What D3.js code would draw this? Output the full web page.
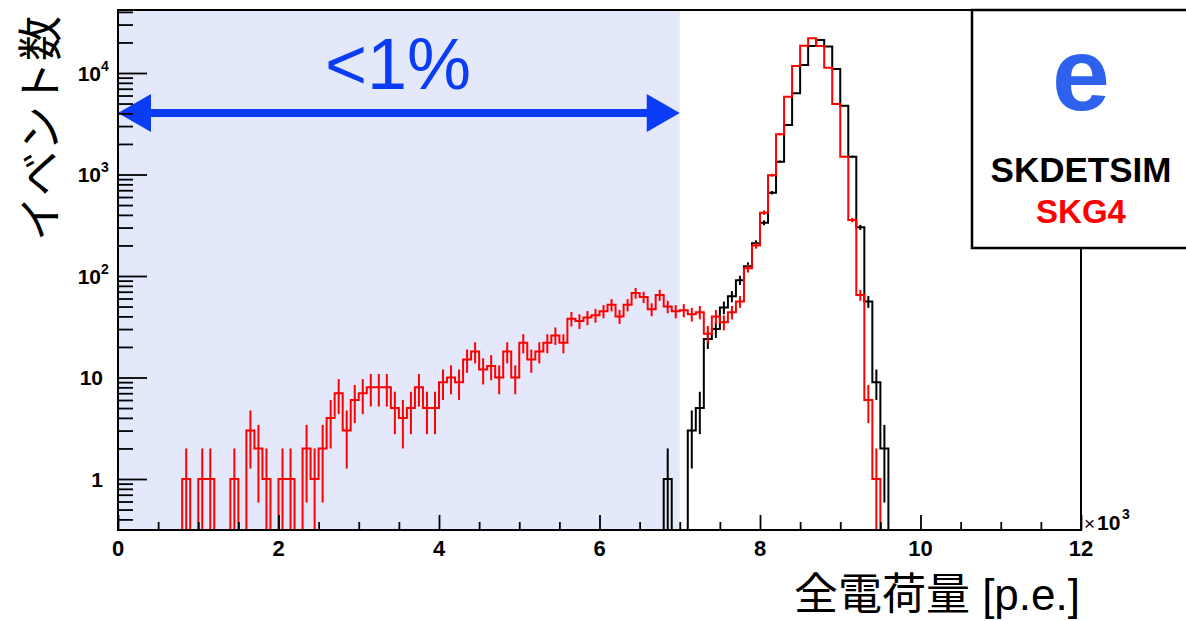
<!DOCTYPE html>
<html>
<head>
<meta charset="utf-8">
<title>全電荷量分布</title>
<script src="https://d3js.org/d3.v7.min.js"></script>
<style>
  body { margin: 0; background: #fff; }
  text { font-family: "Liberation Sans", "Noto Sans CJK JP", sans-serif; }
</style>
</head>
<body>
<div id="chart"></div>
<script>
// ヒストグラム: 0〜12000 p.e., 100 p.e. 刻み 120 ビン
const binEdges = d3.range(0, 12001, 100);

// SKDETSIM (黒)  ビン 68〜95 以外は 0
const skdetsim = [
  0,0,0,0,0,0,0,0,0,0, 0,0,0,0,0,0,0,0,0,0,
  0,0,0,0,0,0,0,0,0,0, 0,0,0,0,0,0,0,0,0,0,
  0,0,0,0,0,0,0,0,0,0, 0,0,0,0,0,0,0,0,0,0,
  0,0,0,0,0,0,0,0,1,0, 0,3,5,24,30,49,63,91,125,210,
  335,661,1336,3075,6310,12000,18450,21130,18200,10950, 4760,1497,302,56,9,2,0,0,0,0,
  0,0,0,0,0,0,0,0,0,0, 0,0,0,0,0,0,0,0,0,0
];

// SKG4 (赤)
const skg4 = [
  0,0,0,0,0,0,0,0,1,0, 1,1,0,0,1,0,3,2,1,0,
  1,1,0,2,1,2,4,7,3,6, 7,8,8,8,5,4,5,8,5,5,
  9,10,9,15,18,12,13,10,18,10, 22,15,18,22,26,22,38,36,39,41,
  45,52,40,52,68,62,47,65,50,45, 46,42,44,27,40,35,44,56,119,200,
  421,982,2490,5850,11700,18600,22000,18450,11280,4950, 1497,356,65,6,1,0,0,0,0,0,
  0,0,0,0,0,0,0,0,0,0, 0,0,0,0,0,0,0,0,0,0
];

const xMajorTicks = [0, 2000, 4000, 6000, 8000, 10000, 12000];
const xTickLabels = ["0", "2", "4", "6", "8", "10", "12"];
const yMajorTicks = [1, 10, 100, 1000, 10000];
const yTickLabels = [["1", ""], ["10", ""], ["10", "2"], ["10", "3"], ["10", "4"]];
const cutValue = 7000;   // 網掛けの範囲 (<1%)

const W = 1186, H = 621;
const pL = 118, pR = 1081, pT = 10, pB = 530;

const svg = d3.select("#chart").append("svg")
  .attr("width", W).attr("height", H);
svg.append("rect").attr("width", W).attr("height", H).attr("fill", "#fff");

const x = d3.scaleLinear().domain([0, 12000]).range([pL, pR]);
const y = d3.scaleLog().domain([0.3144, 41750]).range([pB, pT]);
const yv = v => v > 0 ? y(v) : pB + 6;

// 網掛け
svg.append("rect")
  .attr("x", x(0)).attr("y", pT)
  .attr("width", x(cutValue) - x(0)).attr("height", pB - pT)
  .attr("fill", "#e3e8fb");

svg.append("clipPath").attr("id", "plot")
  .append("rect").attr("x", pL).attr("y", pT)
  .attr("width", pR - pL).attr("height", pB - pT);

const plot = svg.append("g").attr("clip-path", "url(#plot)");

function drawHist(vals, color) {
  let d = `M${x(binEdges[0])},${yv(0)}`;
  vals.forEach((v, i) => {
    d += `V${yv(v)}H${x(binEdges[i + 1])}`;
  });
  d += `V${yv(0)}`;
  plot.append("path").attr("d", d)
    .attr("fill", "none").attr("stroke", color).attr("stroke-width", 2);

  // 誤差棒 sqrt(N)
  vals.forEach((v, i) => {
    if (v <= 0) return;
    const e = Math.sqrt(v);
    const cx = (x(binEdges[i]) + x(binEdges[i + 1])) / 2;
    plot.append("line")
      .attr("x1", cx).attr("x2", cx)
      .attr("y1", yv(v - e)).attr("y2", yv(v + e))
      .attr("stroke", color).attr("stroke-width", 2);
  });
}

drawHist(skdetsim, "#000");
drawHist(skg4, "#ff0000");

// 矢印
const arrowY = 113, headL = 33, headH = 19;
const blue = "#0a3cf5";
svg.append("line")
  .attr("x1", x(0) + headL - 2).attr("x2", x(cutValue) - headL + 2)
  .attr("y1", arrowY).attr("y2", arrowY)
  .attr("stroke", blue).attr("stroke-width", 8);
svg.append("path")
  .attr("d", `M${x(0)},${arrowY}L${x(0) + headL},${arrowY - headH}L${x(0) + headL},${arrowY + headH}Z`)
  .attr("fill", blue);
svg.append("path")
  .attr("d", `M${x(cutValue)},${arrowY}L${x(cutValue) - headL},${arrowY - headH}L${x(cutValue) - headL},${arrowY + headH}Z`)
  .attr("fill", blue);

svg.append("text")
  .attr("x", 398).attr("y", 89)
  .attr("text-anchor", "middle")
  .style("font-size", "72px")
  .attr("fill", blue)
  .text("<1%");

// 枠
svg.append("rect")
  .attr("x", pL).attr("y", pT)
  .attr("width", pR - pL).attr("height", pB - pT)
  .attr("fill", "none").attr("stroke", "#000").attr("stroke-width", 2);

// 目盛り
const yMinor = [];
for (let dec = -1; dec <= 4; dec++) {
  for (let k = 2; k <= 9; k++) {
    const v = k * Math.pow(10, dec);
    if (v > 0.3144 && v < 41750) yMinor.push(v);
  }
}
const tickStyle = g => {
  g.select(".domain").remove();
  g.selectAll("line").attr("stroke", "#000").attr("stroke-width", 1.8);
};
svg.append("g").attr("transform", `translate(${pL},0)`)
  .call(d3.axisRight(y).tickValues(yMajorTicks).tickSize(29).tickFormat(""))
  .call(tickStyle);
svg.append("g").attr("transform", `translate(${pL},0)`)
  .call(d3.axisRight(y).tickValues(yMinor).tickSize(15).tickFormat(""))
  .call(tickStyle);
svg.append("g").attr("transform", `translate(0,${pB})`)
  .call(d3.axisTop(x).tickValues(xMajorTicks).tickSize(15).tickFormat(""))
  .call(tickStyle);
svg.append("g").attr("transform", `translate(0,${pB})`)
  .call(d3.axisTop(x).tickValues(d3.range(500, 12000, 500).filter(v => v % 2000 !== 0)).tickSize(8).tickFormat(""))
  .call(tickStyle);

// 目盛りラベル
xMajorTicks.forEach((v, i) => {
  svg.append("text")
    .attr("x", x(v)).attr("y", 556)
    .attr("text-anchor", "middle")
    .style("font-size", "22px").style("font-weight", "bold")
    .text(xTickLabels[i]);
});
yMajorTicks.forEach((v, i) => {
  const [base, sup] = yTickLabels[i];
  svg.append("text")
    .attr("x", sup ? 101 : 103).attr("y", y(v) + 8)
    .attr("text-anchor", "end")
    .style("font-size", "21px").style("font-weight", "bold")
    .text(base);
  if (sup) {
    svg.append("text")
      .attr("x", 101).attr("y", y(v) - 2)
      .style("font-size", "14px").style("font-weight", "bold")
      .text(sup);
  }
});

// ×10^3
svg.append("text").attr("x", 1084).attr("y", 530)
  .style("font-size", "19px").text("×");
svg.append("text").attr("x", 1097).attr("y", 530)
  .style("font-size", "21px").style("font-weight", "bold").text("10");
svg.append("text").attr("x", 1122).attr("y", 519)
  .style("font-size", "14px").style("font-weight", "bold").text("3");

// 軸タイトル
svg.append("text")
  .attr("transform", "translate(57,16) rotate(-90)")
  .attr("text-anchor", "end")
  .style("font-size", "45px")
  .text("イベント数");
svg.append("text")
  .attr("x", 1080).attr("y", 610)
  .attr("text-anchor", "end")
  .style("font-size", "44px")
  .text("全電荷量 [p.e.]");

// 凡例
svg.append("rect")
  .attr("x", 972).attr("y", 10).attr("width", 240).attr("height", 238)
  .attr("fill", "#fff").attr("stroke", "#000").attr("stroke-width", 2.5);
svg.append("text").attr("x", 1081).attr("y", 110)
  .attr("text-anchor", "middle")
  .style("font-size", "104px").style("font-weight", "bold")
  .attr("fill", "#2e62ee").text("e");
svg.append("text").attr("x", 1081).attr("y", 182)
  .attr("text-anchor", "middle")
  .style("font-size", "35px").style("font-weight", "bold")
  .attr("fill", "#000").text("SKDETSIM");
svg.append("text").attr("x", 1081).attr("y", 223)
  .attr("text-anchor", "middle")
  .style("font-size", "33px").style("font-weight", "bold")
  .attr("fill", "#ff0000").text("SKG4");
</script>
</body>
</html>
